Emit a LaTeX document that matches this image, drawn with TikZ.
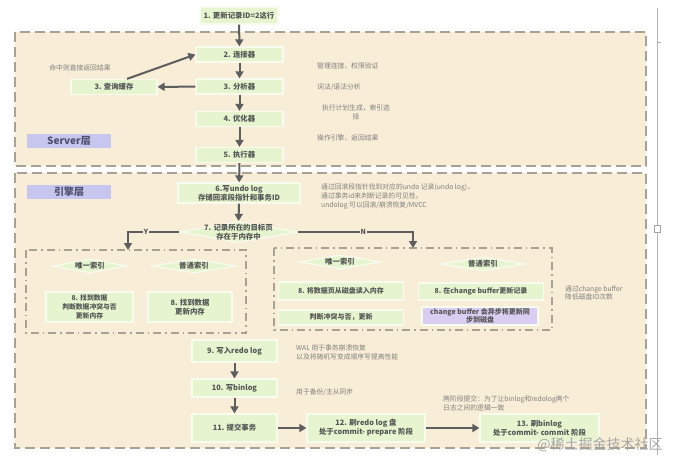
\documentclass[tikz,border=0pt]{standalone}
\usepackage{fontspec}
\setmainfont{Noto Sans CJK SC}
\usetikzlibrary{arrows.meta,shapes.geometric}
\definecolor{beige}{HTML}{F8EDD6}
\definecolor{dashc}{HTML}{A8A292}
\definecolor{nodefill}{HTML}{E6F5CF}
\definecolor{nodeline}{HTML}{F7FCEF}
\definecolor{purp}{HTML}{D9CDF2}
\definecolor{lav}{HTML}{C6C6EE}
\definecolor{tagtext}{HTML}{4E4E6E}
\definecolor{arr}{HTML}{5E5E5E}
\definecolor{txt}{HTML}{555555}
\definecolor{notec}{HTML}{808080}
\tikzset{
  layer/.style={draw=dashc, fill=beige, line width=1.8pt, dash pattern=on 10pt off 5pt},
  sublayer/.style={draw=dashc, line width=1.5pt, dash pattern=on 8pt off 4pt on 1.5pt off 4pt},
  box/.style={draw=nodeline, fill=nodefill, line width=1.2pt, font=\bfseries\fontsize{7.4}{9}\selectfont, text=txt, align=center, inner sep=1pt},
  pbox/.style={box, fill=purp},
  dia/.style={shape=diamond, draw=nodeline, fill=nodefill, line width=1.2pt, inner sep=0pt},
  dtext/.style={font=\bfseries\fontsize{7.4}{9}\selectfont, text=txt, align=center},
  notetext/.style={font=\fontsize{6.8}{9}\selectfont, text=notec, align=left, anchor=west, inner sep=0pt},
  arrow/.style={draw=arr, line width=2pt, -{Triangle[length=7pt,width=8pt]}},
  tag/.style={fill=lav, font=\bfseries\fontsize{10}{12}\selectfont, text=tagtext, minimum width=84pt, minimum height=14pt, inner sep=0pt},
  yn/.style={fill=beige, font=\bfseries\fontsize{7}{8}\selectfont, text=txt, inner sep=0.5pt},
}
\begin{document}
\begin{tikzpicture}[x=1pt,y=-1pt]
\useasboundingbox[fill=white] (0,0) rectangle (678,467);
% layers
\draw[layer] (15,32) rectangle (646,166);
\draw[layer] (15,173) rectangle (646,448);
\draw[sublayer] (26,250) rectangle (246,333);
\draw[sublayer] (274,248) rectangle (552,330);
% editor line
\draw[gray!60, line width=0.6pt] (657,8) -- (657,455);
\draw[gray!60, line width=0.6pt] (657,42) -- (661,42);
\draw[gray!70, fill=white, line width=0.5pt] (654,225) rectangle (660,232);

% tags
\node[tag] (srv) at (69,140.5) {Server层};
\node[tag] (eng) at (69,192) {引擎层};

% server nodes
\node[box, minimum width=78pt, minimum height=17pt] (n1) at (239,15.5) {1. 更新记录ID=2这行};
\node[box, minimum width=87pt, minimum height=15pt] (n2) at (239.5,54.5) {2. 连接器};
\node[box, minimum width=87pt, minimum height=15pt] (n3) at (239.5,86.5) {3. 分析器};
\node[box, minimum width=86pt, minimum height=15pt] (cache) at (114,87) {3. 查询缓存};
\node[box, minimum width=87pt, minimum height=15pt] (n4) at (239.5,119) {4. 优化器};
\node[box, minimum width=87pt, minimum height=15pt] (n5) at (239.5,155) {5. 执行器};

\node[notetext, anchor=center] (hit) at (80,68) {命中则直接返回结果};
\node[notetext] (c2) at (317,66) {管理连接，权限验证};
\node[notetext] (c3) at (317,87) {词法/语法分析};
\node[notetext, anchor=center, align=center] (c4) at (356,112) {执行计划生成，索引选\\择};
\node[notetext] (c5) at (317,138) {操作引擎，返回结果};

% engine nodes
\node[box, minimum width=122pt, minimum height=20pt] (n6) at (239,193) {6.写undo log\\存储回滚段指针和事务ID};
\node[notetext] (c6) at (321,196) {通过回滚段指针找到对应的undo 记录(undo log)，\\通过事务id来判断记录的可见性。\\undolog 可以回滚/崩溃恢复/MVCC};
\node[dia, minimum width=117pt, minimum height=21pt, label={[dtext]center:{7. 记录所在的目标页\\存在于内存中}}] (n7) at (238.5,232) {};

\coordinate (yend) at (128,250);
\coordinate (nend) at (413,248);

% left sub
\node[dia, minimum width=74pt, minimum height=14pt, label={[dtext]center:唯一索引}] (lu) at (90,266) {};
\node[dia, minimum width=84pt, minimum height=14pt, label={[dtext]center:普通索引}] (ln) at (194,266) {};
\node[box, minimum width=87pt, minimum height=30pt, font=\bfseries\fontsize{6.8}{9}\selectfont] (l8a) at (89.5,307) {8. 找到数据\\判断数据冲突与否\\更新内存};
\node[box, minimum width=84pt, minimum height=30pt] (l8b) at (190,307) {8. 找到数据\\更新内存};

% right sub
\node[dia, minimum width=80pt, minimum height=14pt, label={[dtext]center:唯一索引}] (ru) at (340,262) {};
\node[dia, minimum width=82pt, minimum height=14pt, label={[dtext]center:普通索引}] (rn) at (483,264) {};
\node[box, minimum width=125pt, minimum height=18pt, font=\bfseries\fontsize{7}{9}\selectfont] (r8a) at (341,291) {8. 将数据页从磁盘读入内存};
\node[box, minimum width=125pt, minimum height=15pt, font=\bfseries\fontsize{7}{9}\selectfont] (r8b) at (341,317.5) {判断冲突与否，更新};
\node[box, minimum width=125pt, minimum height=17pt, font=\bfseries\fontsize{7}{9}\selectfont] (r8c) at (481,291.5) {8. 在change buffer更新记录};
\node[pbox, minimum width=116pt, minimum height=18pt, font=\bfseries\fontsize{7}{8.5}\selectfont] (r8d) at (480,316) {change buffer 会异步将更新同\\步到磁盘};
\node[notetext, font=\fontsize{6.8}{8.5}\selectfont] (cb) at (565,293) {通过change buffer\\降低磁盘IO次数};

% lower chain
\node[box, minimum width=85pt, minimum height=22pt] (n9) at (234.5,351) {9. 写入redo log};
\node[box, minimum width=85pt, minimum height=18pt] (n10) at (234.5,388) {10. 写binlog};
\node[box, minimum width=85pt, minimum height=28pt] (n11) at (234.5,428) {11. 提交事务};
\node[box, minimum width=118pt, minimum height=28pt] (n12) at (366,428) {12. 刷redo log 盘\\处于commit- prepare 阶段};
\node[box, minimum width=119pt, minimum height=28pt] (n13) at (539.5,428) {13. 刷binlog\\处于commit- commit 阶段};

\node[notetext] (c9) at (296,352.5) {WAL 用于事务崩溃恢复\\以及将随机写变成顺序写提高性能};
\node[notetext] (c10) at (296,392) {用于备份/主从同步};
\node[notetext] (c12) at (443,403) {两阶段提交：为了让binlog和redolog两个\\日志之间的逻辑一致};

% arrows
\draw[arrow] (n1) -- (n2);
\draw[arrow] (n2) -- (n3);
\draw[arrow] (n3) -- (n4);
\draw[arrow] (n4) -- (n5);
\draw[arrow] (n3) -- (cache);
\draw[arrow] ([xshift=13pt]cache.north) -- (n2.west);
\draw[arrow] (n5) -- (n6);
\draw[arrow] (n6) -- (n7);
\draw[arrow] (n7.west) -- node[yn, pos=0.65]{Y} (n7.west -| yend) -- (yend);
\draw[arrow] (n7.east) -- node[yn, pos=0.57]{N} (n7.east -| nend) -- (nend);
\draw[arrow] (n9) -- (n10);
\draw[arrow] (n10) -- (n11);
\draw[arrow] (n11) -- (n12);
\draw[arrow] (n12) -- (n13);

% watermark
\node[font=\fontsize{14}{16}\selectfont, text=gray!75, opacity=0.9, inner sep=0pt] (wm) at (600,445) {@稀土掘金技术社区};
\end{tikzpicture}
\end{document}
